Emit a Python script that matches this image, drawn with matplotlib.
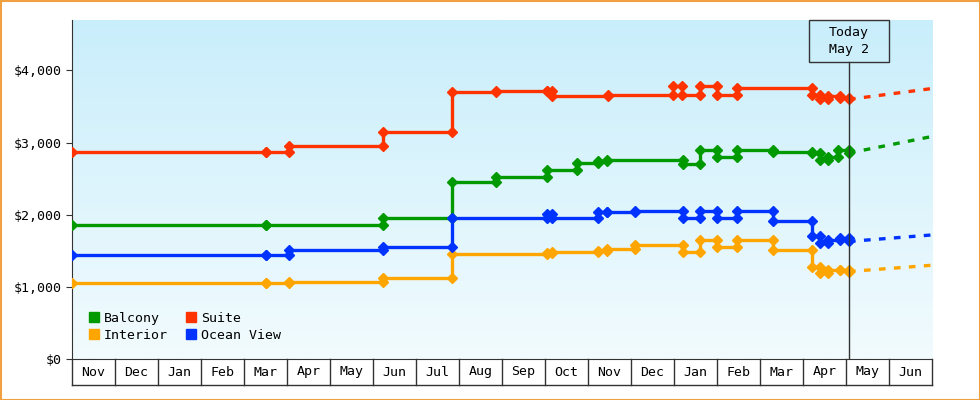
import matplotlib
matplotlib.use("Agg")
import matplotlib.pyplot as plt
import numpy as np
from matplotlib.patches import Rectangle
from matplotlib.transforms import blended_transform_factory
from matplotlib.colors import LinearSegmentedColormap

months = ["Nov","Dec","Jan","Feb","Mar","Apr","May","Jun","Jul","Aug",
          "Sep","Oct","Nov","Dec","Jan","Feb","Mar","Apr","May","Jun"]
today_x = 18.07
end_x = 20.0

# (position in months from start, new value)
suite_start = 2870
suite_changes = [(4.51,2870),(5.05,2960),(7.23,3150),(8.84,3700),(9.86,3720),(11.05,3710),
                 (11.16,3650),(12.47,3660),(13.98,3780),(14.19,3667),(14.6,3780),(15.0,3667),
                 (15.47,3760),(17.21,3667),(17.4,3600),(17.58,3643),(17.86,3620),(18.07,3600)]
suite_fc = 3750
balcony_start = 1860
balcony_changes = [(4.51,1860),(7.23,1960),(8.84,2450),(9.86,2530),(11.05,2625),(11.74,2718),
                   (12.23,2750),(12.44,2763),(14.21,2704),(14.6,2900),(15.0,2796),(15.47,2893),
                   (16.3,2870),(17.21,2850),(17.4,2763),(17.58,2796),(17.81,2900),(18.07,2856)]
balcony_fc = 3085
ocean_start = 1440
ocean_changes = [(4.51,1440),(5.05,1510),(7.23,1550),(8.84,1960),(11.05,2010),(11.16,1960),
                 (12.23,2032),(12.44,2040),(13.09,2055),(14.21,1954),(14.6,2055),(15.0,1954),
                 (15.47,2055),(16.3,1907),(17.21,1700),(17.4,1606),(17.58,1653),(17.86,1676),(18.07,1630)]
ocean_fc = 1720
interior_start = 1050
interior_changes = [(4.51,1050),(5.05,1070),(7.23,1120),(8.84,1460),(11.05,1472),(11.16,1490),
                    (12.23,1500),(12.44,1530),(13.09,1583),(14.21,1477),(14.6,1643),(15.0,1546),
                    (15.47,1653),(16.3,1505),(17.21,1282),(17.4,1190),(17.58,1230),(17.86,1240),(18.07,1213)]
interior_fc = 1300

series = [("Balcony","#009900",balcony_start,balcony_changes,balcony_fc),
          ("Interior","#ffa500",interior_start,interior_changes,interior_fc),
          ("Suite","#ff3300",suite_start,suite_changes,suite_fc),
          ("Ocean View","#0033ff",ocean_start,ocean_changes,ocean_fc)]

plt.rcParams["font.family"] = "DejaVu Sans Mono"
fig = plt.figure(figsize=(9.8,4.0), dpi=100)
ax = fig.add_axes([72/980, 41/400, 860/980, 339/400])
ax.set_xlim(0, end_x)
ax.set_ylim(0, 4700)

grad = np.linspace(0,1,256).reshape(-1,1)
cm = LinearSegmentedColormap.from_list("g", ["#f2fbfe", "#c9eefb"])
ax.imshow(grad, aspect="auto", cmap=cm, extent=[0,end_x,0,4700], origin="lower", zorder=0)

for name, col, start, ch, fc in series:
    xs=[0]; ys=[start]; mx=[0]; my=[start]
    cur=start
    for x,v in ch:
        xs += [x,x]; ys += [cur,v]
        mx += [x,x]; my += [cur,v]
        cur=v
    ax.plot(xs, ys, color=col, lw=2.4, zorder=3)
    ax.plot(mx, my, 'D', color=col, ms=5, zorder=4, ls='none')
    ax.plot([today_x,end_x],[cur,fc], color=col, lw=2.4, ls=(0,(2,2.5)), zorder=3)
    ax.plot([],[],'s',color=col,ms=7,label=name)

ax.legend(loc="lower left", ncol=2, frameon=False, fontsize=9.5, handletextpad=0.0,
          columnspacing=1.0, bbox_to_anchor=(0.0,0.015), labelspacing=0.3, handlelength=1.5)

ax.set_yticks([0,1000,2000,3000,4000])
ax.set_yticklabels(["$0","$1,000","$2,000","$3,000","$4,000"], fontsize=9.5)
ax.set_xticks([])
for s in ["top","right"]:
    ax.spines[s].set_visible(False)
ax.spines["left"].set_color("#333333"); ax.spines["bottom"].set_color("#333333")
ax.tick_params(axis="y", length=4, color="#333333")

tr = blended_transform_factory(ax.transData, ax.transAxes)
yb = -26/339
for i,m in enumerate(months):
    ax.plot([i,i],[0,yb],color="#333333",lw=1,transform=tr,clip_on=False)
    ax.text(i+0.5, yb/2, m, transform=tr, ha="center", va="center", fontsize=9.5)
ax.plot([end_x,end_x],[0,yb],color="#333333",lw=1,transform=tr,clip_on=False)
ax.plot([0,end_x],[yb,yb],color="#333333",lw=1,transform=tr,clip_on=False)

ax.plot([today_x,today_x],[0,1-42/339],color="#333333",lw=1,transform=tr,zorder=5)
bw = 80/43
ax.add_patch(Rectangle((today_x-bw/2,1-42/339),bw,42/339,transform=tr,fill=False,
                       ec="#333333",lw=1,zorder=5,clip_on=False))
ax.text(today_x,1-21/339,"Today\nMay 2",transform=tr,ha="center",va="center",fontsize=9.5,
        linespacing=1.4,zorder=6)

fig.patches.append(Rectangle((0.5/980,0.5/400),979/980,399/400,transform=fig.transFigure,
                             fill=False,ec="#f0a040",lw=1.5))
fig.savefig("out.png", dpi=100, facecolor="white")
